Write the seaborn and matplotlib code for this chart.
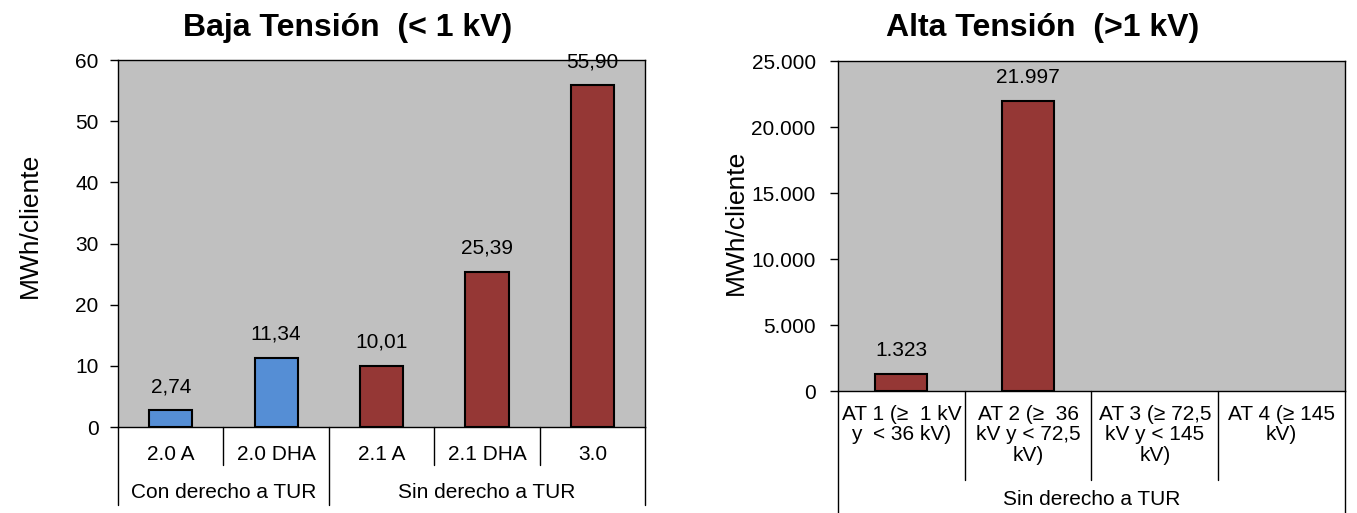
# Consumo medio por cliente: baja vs alta tensión, dos paneles de barras
import matplotlib

matplotlib.use("Agg")
import matplotlib.pyplot as plt
import matplotlib.transforms as mtransforms
import matplotlib.ticker as mticker
import pandas as pd
import seaborn as sns

# --- data ---
bt_tarifas = ["2.0 A", "2.0 DHA", "2.1 A", "2.1 DHA", "3.0"]
bt_valores = [2.74, 11.34, 10.01, 25.39, 55.90]
bt_grupo = ["Con derecho a TUR", "Con derecho a TUR",
            "Sin derecho a TUR", "Sin derecho a TUR", "Sin derecho a TUR"]

at_tarifas = ["AT 1 (≥  1 kV\ny  < 36 kV)", "AT 2 (≥  36\nkV y < 72,5\nkV)",
              "AT 3 (≥ 72,5\nkV y < 145\nkV)", "AT 4 (≥ 145\nkV)"]
at_valores = [1323, 21997, 0, 0]
at_grupo = ["Sin derecho a TUR"] * 4

BLUE, RED, GREY = "#558ED5", "#953735", "#C0C0C0"
FS = 15

sns.set_theme(style="white")
plt.rcParams["font.family"] = ["Liberation Sans", "DejaVu Sans"]
plt.rcParams["text.color"] = "black"
plt.rcParams["axes.labelcolor"] = "black"
plt.rcParams["xtick.color"] = "black"
plt.rcParams["ytick.color"] = "black"

fig = plt.figure(figsize=(13.57, 5.13), dpi=100)
ax1 = fig.add_axes([0.0870, 0.1676, 0.3884, 0.7154])
ax2 = fig.add_axes([0.6175, 0.2378, 0.3736, 0.6430])


def es_num(v, dec):
    s = f"{v:,.{dec}f}"
    return s.replace(",", "X").replace(".", ",").replace("X", ".")


def panel(ax, cats, vals, groups, colors, ymax, step, dec, tick_pad, ytick_pad,
          sep_inner, sep_outer, group_y, ylab_x, ylab_y):
    df = pd.DataFrame({"cat": cats, "val": vals})
    sns.barplot(data=df, x="cat", y="val", hue="cat", palette=colors,
                legend=False, width=0.41, edgecolor="black", linewidth=1.5,
                saturation=1, ax=ax)
    ax.set_facecolor(GREY)
    ax.set_ylim(0, ymax)
    ax.set_xlim(-0.5, len(cats) - 0.5)
    ax.yaxis.set_major_locator(mticker.MultipleLocator(step))
    ax.yaxis.set_major_formatter(
        mticker.FuncFormatter(lambda v, p: es_num(v, 0)))
    ax.tick_params(axis="y", left=True, length=6, width=1, color="black",
                   labelsize=FS, pad=ytick_pad)
    ax.tick_params(axis="x", bottom=False, labelsize=FS, pad=tick_pad)
    for lab in ax.get_xticklabels():
        lab.set_ha("center")
        lab.set_va("top")
        lab.set_multialignment("center")
        lab.set_linespacing(1.1)
    ax.set_xlabel("")
    ax.set_ylabel("MWh/cliente", fontsize=19)
    ax.yaxis.set_label_coords(ylab_x, ylab_y)
    for s in ax.spines.values():
        s.set_color("black")
        s.set_linewidth(1)

    # value labels; empty bars drawn without outline
    for cont in ax.containers:
        for bar in cont:
            h = bar.get_height()
            if h > 0:
                ax.annotate(es_num(h, dec), (bar.get_x() + bar.get_width() / 2, h),
                            xytext=(0, 10), textcoords="offset points",
                            ha="center", va="bottom", fontsize=FS)
            else:
                bar.set_linewidth(0)

    # category table below the axis
    tr = mtransforms.blended_transform_factory(ax.transData, ax.transAxes)
    n = len(cats)
    for i in range(n + 1):
        edge = i == 0 or i == n or groups[i - 1] != groups[min(i, n - 1)]
        y_end = sep_outer if edge else sep_inner
        ax.plot([i - 0.5, i - 0.5], [0, y_end], transform=tr, color="black",
                lw=1, clip_on=False)
    start = 0
    for i in range(1, n + 1):
        if i == n or groups[i] != groups[start]:
            ax.text((start + i - 1) / 2, group_y, groups[start], transform=tr,
                    ha="center", va="center", fontsize=FS)
            start = i


panel(ax1, bt_tarifas, bt_valores, bt_grupo,
      [BLUE, BLUE, RED, RED, RED], 60, 10, 2, 7, 8,
      -38 / 367, -78 / 367, -65 / 367, -0.145, 0.55)
panel(ax2, at_tarifas, at_valores, at_grupo,
      [RED] * 4, 25000, 5000, 0, 4, 10,
      -89 / 330, -140 / 330, -109 / 330, -0.178, 0.51)

fig.text(348 / 1357, 1 - 28 / 513, "Baja Tensión  (< 1 kV)", ha="center",
         va="center", fontsize=23, fontweight="bold")
fig.text(1043 / 1357, 1 - 28 / 513, "Alta Tensión  (>1 kV)", ha="center",
         va="center", fontsize=23, fontweight="bold")

fig.savefig("out.png", dpi=100)
